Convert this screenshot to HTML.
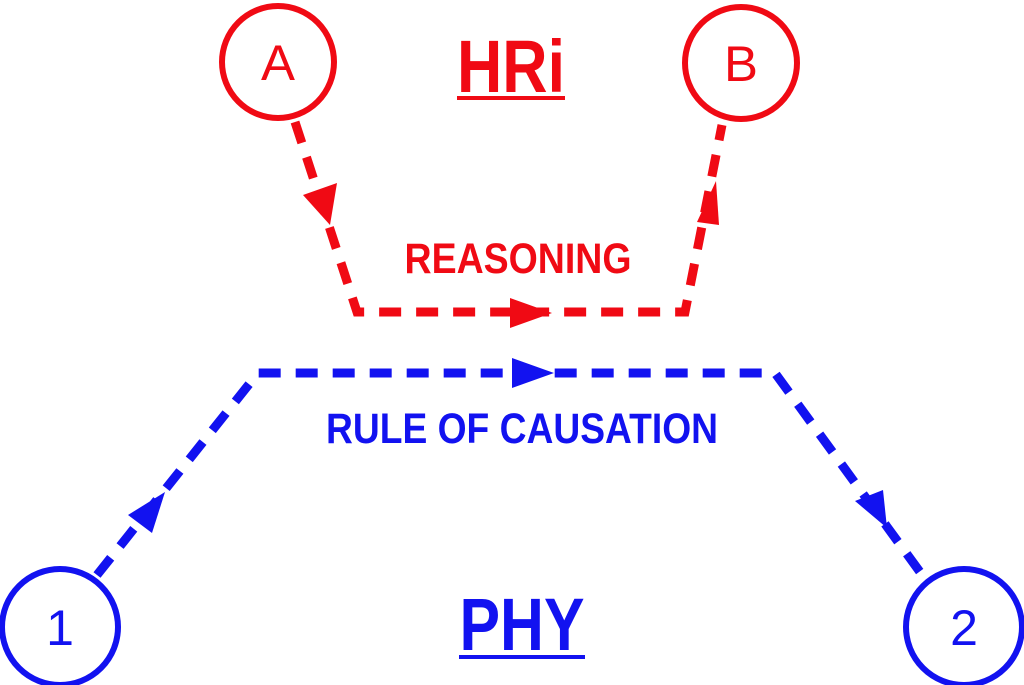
<!DOCTYPE html>
<html><head><style>
html,body{margin:0;padding:0;background:#fff;}
svg{display:block;}
text{font-family:"Liberation Sans",sans-serif;font-weight:bold;}
</style></head><body>
<svg width="1024" height="685" viewBox="0 0 1024 685">
<g fill="none" stroke-width="6">
<circle cx="278" cy="62" r="56" stroke="#f00a14"/>
<circle cx="741" cy="63" r="56" stroke="#f00a14"/>
<circle cx="60" cy="627" r="58" stroke="#1212f0"/>
<circle cx="964" cy="627" r="58" stroke="#1212f0"/>
</g>
<g fill="none" stroke-width="9" stroke-dasharray="22 15">
<path d="M295 122 L357 312 L685 312 L722 125" stroke="#f00a14"/>
<path d="M97 575 L258 373 L775 373 L920 572" stroke="#1212f0"/>
</g>
<g fill="#f00a14">
<polygon points="303,195 337,183 330,225"/>
<polygon points="510,298 510,328 552,313"/>
<polygon points="697,222 719,225 716,181"/>
</g>
<g fill="#1212f0">
<polygon points="128,515 152,533 165,492"/>
<polygon points="512,358 512,388 554,373"/>
<polygon points="855,501 883,490 887,528"/>
</g>
<g text-anchor="middle">
<text x="278" y="80" font-size="50" style="font-weight:normal" fill="#f00a14" textLength="34" lengthAdjust="spacingAndGlyphs">A</text>
<text x="741" y="81" font-size="50" style="font-weight:normal" fill="#f00a14" textLength="34" lengthAdjust="spacingAndGlyphs">B</text>
<text x="60" y="645" font-size="50" style="font-weight:normal" fill="#1212f0">1</text>
<text x="964" y="645" font-size="50" style="font-weight:normal" fill="#1212f0">2</text>
<text x="511" y="92" font-size="74" fill="#f00a14" textLength="108" lengthAdjust="spacingAndGlyphs">HRi</text>
<text x="518" y="273" font-size="43" fill="#f00a14" textLength="227" lengthAdjust="spacingAndGlyphs">REASONING</text>
<text x="522" y="443" font-size="43" fill="#1212f0" textLength="392" lengthAdjust="spacingAndGlyphs">RULE OF CAUSATION</text>
<text x="522" y="650" font-size="74" fill="#1212f0" textLength="125" lengthAdjust="spacingAndGlyphs">PHY</text>
</g>
<rect x="457" y="96" width="108" height="4" fill="#f00a14"/>
<rect x="459" y="655" width="126" height="4" fill="#1212f0"/>
</svg>
</body></html>
